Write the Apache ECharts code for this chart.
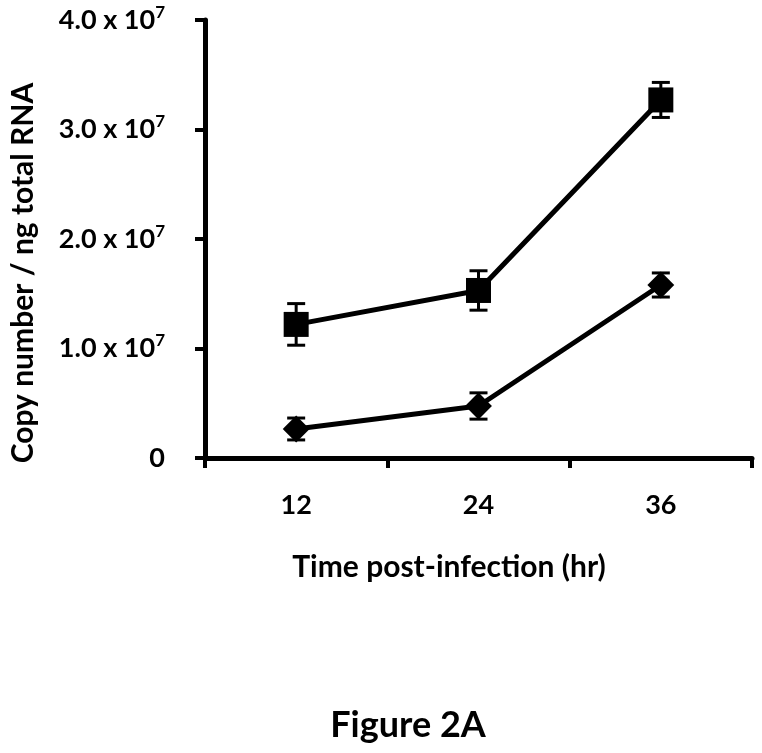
<!DOCTYPE html>
<html><head><meta charset="utf-8">
<script src="https://cdn.jsdelivr.net/npm/echarts@6/dist/echarts.min.js"></script>
<style>html,body{margin:0;padding:0;background:#fff}#c{width:762px;height:753px}</style>
</head><body><div id="c"></div>
<script>
const categories = ['12', '24', '36'];
const squareMean = [1.22e7, 1.53e7, 3.27e7];
const squareErr = [0.19e7, 0.18e7, 0.16e7];
const diamondMean = [0.265e7, 0.475e7, 1.58e7];
const diamondErr = [0.10e7, 0.12e7, 0.11e7];

const FONT = 'Lato';
const chart = echarts.init(document.getElementById('c'));

function errData(mean, err) {
  return mean.map((m, i) => [i, m - err[i], m + err[i]]);
}
function errRender(params, api) {
  const x = api.value(0);
  const lo = api.coord([x, api.value(1)]);
  const hi = api.coord([x, api.value(2)]);
  const w = 9;
  const st = { stroke: '#000', lineWidth: 3 };
  return {
    type: 'group',
    children: [
      { type: 'line', shape: { x1: lo[0], y1: lo[1], x2: hi[0], y2: hi[1] }, style: st },
      { type: 'line', shape: { x1: lo[0] - w, y1: lo[1], x2: lo[0] + w, y2: lo[1] }, style: st },
      { type: 'line', shape: { x1: hi[0] - w, y1: hi[1], x2: hi[0] + w, y2: hi[1] }, style: st }
    ]
  };
}

chart.setOption({
  animation: false,
  backgroundColor: '#fff',
  grid: { left: 205, top: 20, right: 10, bottom: 295, containLabel: false },
  xAxis: {
    type: 'category',
    data: categories,
    boundaryGap: true,
    axisLine: { lineStyle: { color: '#000', width: 5 } },
    axisTick: { show: true, length: 10, lineStyle: { color: '#000', width: 4 } },
    axisLabel: { color: '#000', fontFamily: FONT, fontWeight: 'bold', fontSize: 27, margin: 34 }
  },
  yAxis: {
    type: 'value',
    min: 0, max: 4e7, interval: 1e7,
    splitLine: { show: false },
    axisLine: { show: true, lineStyle: { color: '#000', width: 5 } },
    axisTick: { show: true, length: 10, lineStyle: { color: '#000', width: 4 } },
    axisLabel: {
      margin: 40,
      formatter: function (v) {
        if (v === 0) return '{a|0}';
        return '{a|' + (v / 1e7).toFixed(1) + ' x 10}{s|7}';
      },
      rich: {
        a: { color: '#000', fontFamily: FONT, fontWeight: 'bold', fontSize: 27 },
        s: { color: '#000', fontFamily: FONT, fontWeight: 'bold', fontSize: 17, padding: [0, 0, 15, 0] }
      }
    }
  },
  series: [
    {
      type: 'custom', renderItem: errRender, data: errData(squareMean, squareErr), z: 1,
      encode: { x: 0, y: [1, 2] }
    },
    {
      type: 'custom', renderItem: errRender, data: errData(diamondMean, diamondErr), z: 1,
      encode: { x: 0, y: [1, 2] }
    },
    {
      type: 'line', data: squareMean, symbol: 'rect', symbolSize: 25, z: 3,
      lineStyle: { color: '#000', width: 5 }, itemStyle: { color: '#000' }
    },
    {
      type: 'line', data: diamondMean, symbol: 'rect', symbolSize: 19, symbolRotate: 45, z: 3,
      lineStyle: { color: '#000', width: 5 }, itemStyle: { color: '#000' }
    }
  ],
  graphic: [
    {
      type: 'text', x: 23, y: 273, rotation: Math.PI / 2,
      style: { text: 'Copy number / ng total RNA', font: 'bold 30px ' + FONT, fill: '#000', textAlign: 'center', textVerticalAlign: 'middle' }
    },
    {
      type: 'text', x: 449, y: 567,
      style: { text: 'Time post-infection (hr)', font: 'bold 30px ' + FONT, fill: '#000', textAlign: 'center', textVerticalAlign: 'middle' }
    },
    {
      type: 'text', x: 408, y: 725,
      style: { text: 'Figure 2A', font: 'bold 36px ' + FONT, fill: '#000', textAlign: 'center', textVerticalAlign: 'middle' }
    }
  ]
});
</script></body></html>
